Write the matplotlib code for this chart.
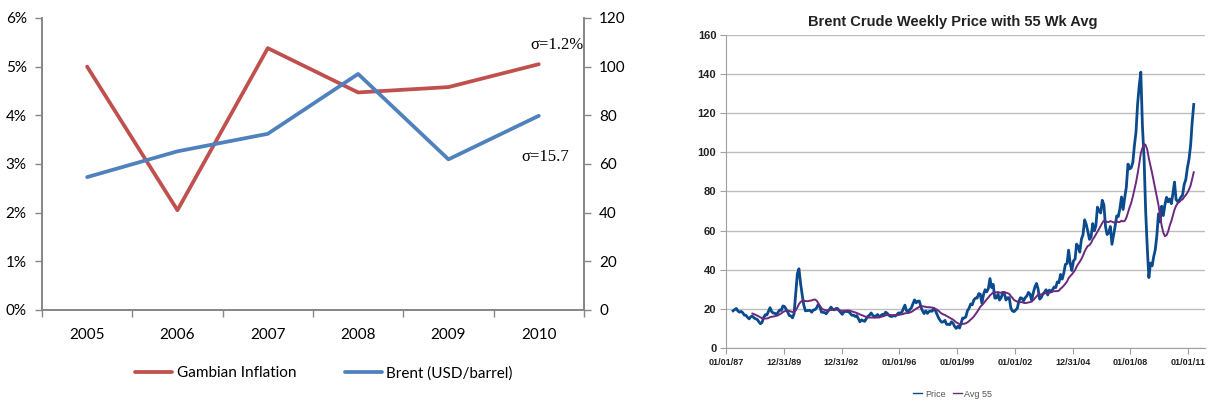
import pandas as pd
import matplotlib
matplotlib.use("Agg")
import matplotlib.pyplot as plt
import matplotlib.dates as mdates
from matplotlib.lines import Line2D

# left panel: yearly values
years = ["2005", "2006", "2007", "2008", "2009", "2010"]
gambia_inflation = [5.00, 2.05, 5.38, 4.47, 4.58, 5.05]   # percent
brent_annual = [54.6, 65.2, 72.4, 97.0, 61.9, 79.8]       # USD/barrel

# right panel: Brent price, one weekly reading per month, May 1987 .. Apr 2011
price_1987 = [19.0, 19.6, 20.2, 18.9, 18.3, 18.7, 18.0, 16.8]
price_1988 = [16.7, 15.6, 14.9, 16.0, 16.3, 15.4, 14.9, 14.6, 13.4, 12.4, 13.1, 15.6]
price_1989 = [17.0, 16.9, 18.7, 20.6, 18.6, 17.9, 17.7, 17.2, 18.3, 19.4, 19.2, 21.5]
price_1990 = [21.2, 19.8, 18.4, 16.6, 16.4, 15.4, 17.6, 27.8, 38.0, 40.5, 33.0, 27.3]
price_1991 = [22.0, 19.0, 19.1, 19.2, 19.2, 18.3, 19.4, 19.6, 20.5, 22.2, 21.2, 18.4]
price_1992 = [18.2, 18.1, 17.5, 18.7, 19.7, 20.9, 19.8, 19.5, 20.2, 20.2, 19.1, 18.2]
price_1993 = [17.2, 18.5, 18.7, 18.6, 18.5, 17.7, 16.7, 16.8, 16.1, 16.6, 15.0, 13.4]
price_1994 = [14.4, 13.9, 13.6, 15.0, 16.2, 16.8, 17.9, 16.8, 15.9, 16.4, 17.1, 15.9]
price_1995 = [16.6, 17.2, 16.9, 18.3, 17.8, 16.7, 16.2, 16.1, 16.6, 16.3, 17.0, 17.9]
price_1996 = [17.9, 18.1, 19.9, 21.9, 19.1, 18.6, 19.6, 20.5, 22.6, 24.6, 23.1, 23.9]
price_1997 = [24.0, 20.8, 19.0, 17.6, 19.0, 17.7, 18.6, 18.9, 18.8, 20.2, 19.1, 17.2]
price_1998 = [15.3, 14.0, 13.2, 13.4, 14.1, 12.1, 12.1, 11.9, 13.4, 12.7, 11.0, 10.0]
price_1999 = [11.1, 10.2, 12.5, 15.3, 15.3, 15.9, 19.0, 20.3, 22.5, 22.1, 24.6, 25.5]
price_2000 = [25.5, 27.8, 27.5, 22.8, 27.3, 29.8, 28.7, 30.4, 35.5, 30.9, 32.5, 25.5]
price_2001 = [25.6, 27.5, 24.5, 25.7, 28.4, 27.7, 24.5, 25.7, 25.7, 20.5, 18.9, 18.6]
price_2002 = [19.4, 20.3, 23.7, 25.7, 25.4, 24.1, 25.7, 26.6, 28.4, 27.5, 24.3, 28.2]
price_2003 = [31.2, 33.0, 30.3, 25.0, 25.8, 27.6, 28.4, 29.8, 27.1, 29.6, 28.8, 29.8]
price_2004 = [31.2, 30.9, 33.8, 33.4, 37.6, 35.2, 38.2, 42.7, 43.2, 50.0, 43.1, 39.6]
price_2005 = [44.5, 45.5, 53.1, 51.9, 49.0, 55.6, 57.9, 65.5, 63.1, 59.5, 55.5, 56.8]
price_2006 = [63.6, 59.9, 62.3, 72.0, 70.2, 69.0, 75.5, 73.2, 62.0, 58.0, 58.9, 62.1]
price_2007 = [53.0, 57.8, 62.1, 67.5, 67.2, 71.3, 77.2, 70.8, 77.1, 82.3, 94.0, 91.5]
price_2008 = [92.2, 94.9, 103.3, 110.4, 124.6, 134.0, 141.0, 113.4, 97.0, 70.0, 51.0, 36.0]
price_2009 = [43.4, 42.0, 46.5, 50.2, 57.3, 68.6, 64.4, 72.5, 67.7, 73.2, 77.0, 74.7]
price_2010 = [76.2, 73.8, 78.8, 84.8, 75.9, 74.8, 75.6, 77.1, 78.2, 83.5, 86.1, 92.0]
price_2011 = [96.5, 103.7, 115.0, 124.5]

brent_weekly = (price_1987 + price_1988 + price_1989 + price_1990 + price_1991 + price_1992
                + price_1993 + price_1994 + price_1995 + price_1996 + price_1997 + price_1998
                + price_1999 + price_2000 + price_2001 + price_2002 + price_2003 + price_2004
                + price_2005 + price_2006 + price_2007 + price_2008 + price_2009 + price_2010
                + price_2011)
dates = pd.date_range("1987-05-01", periods=len(brent_weekly), freq="MS") + pd.Timedelta(days=14)
price = pd.Series(brent_weekly, index=dates)
avg55 = price.rolling(13).mean()   # 55 weeks ~ 13 months

date_ticks = ["1987-01-01", "1989-12-31", "1992-12-31", "1996-01-01", "1999-01-01",
              "2002-01-01", "2004-12-31", "2008-01-01", "2011-01-01"]

red = "#C0504D"
blue = "#4F81BD"
grey = "#868686"

fig = plt.figure(figsize=(12.09, 4.03), dpi=100)

# ---------- left panel ----------
ax1 = fig.add_axes([0.0347, 0.2308, 0.4483, 0.7246])
ax2 = ax1.twinx()
x = list(range(len(years)))
l1, = ax1.plot(x, gambia_inflation, color=red, lw=2.7, solid_capstyle="round")
l2, = ax2.plot(x, brent_annual, color=blue, lw=2.7, solid_capstyle="round")

ax1.set_xlim(-0.5, len(years) - 0.5)
ax1.set_ylim(0, 6)
ax2.set_ylim(0, 120)
ax1.set_yticks(range(0, 7))
ax1.set_yticklabels([f"{v}%" for v in range(0, 7)])
ax2.set_yticks(range(0, 121, 20))
ax1.set_xticks([i - 0.5 for i in range(len(years) + 1)])
ax1.set_xticklabels([])
ax1.set_xticks(x, minor=True)
ax1.set_xticklabels(years, minor=True)
ax1.tick_params(axis="x", which="major", length=5, color=grey, width=1)
ax1.tick_params(axis="x", which="minor", length=0, pad=13)
ax1.tick_params(axis="y", length=5, color=grey, width=1, pad=6)
ax2.tick_params(axis="y", length=5, color=grey, width=1, pad=6)
for a in (ax1, ax2):
    a.spines["top"].set_visible(False)
    for s in ("left", "right", "bottom"):
        a.spines[s].set_color(grey)
        a.spines[s].set_linewidth(1.2)
    for lab in a.get_xticklabels(which="both") + a.get_yticklabels():
        lab.set_fontfamily("Lato")
        lab.set_fontsize(11)

ax1.text(5.2, 5.44, "σ=1.2%", family="Liberation Serif", fontsize=12,
         ha="center", va="center")
ax1.text(5.07, 3.14, "σ=15.7", family="Liberation Serif", fontsize=12,
         ha="center", va="center")

fig.legend([l1, l2], ["Gambian Inflation", "Brent (USD/barrel)"],
           loc="center", bbox_to_anchor=(0.268, 0.074), ncol=2, frameon=False,
           prop={"family": "Lato", "size": 11}, handlelength=2.4, columnspacing=3.2,
           handletextpad=0.3)

# ---------- right panel ----------
ax3 = fig.add_axes([0.6005, 0.1365, 0.396, 0.7767])
ax3.plot(price.index, price.values, color="#0B4A8C", lw=2.0, label="Price")
ax3.plot(avg55.index, avg55.values, color="#6B2A7E", lw=1.4, label="Avg 55")
ax3.set_ylim(0, 160)
ax3.set_yticks(range(0, 161, 20))
ax3.set_xlim(pd.Timestamp("1987-01-01"), pd.Timestamp("2011-11-10"))
ax3.set_xticks(pd.to_datetime(date_ticks))
ax3.xaxis.set_major_formatter(mdates.DateFormatter("%m/%d/%y"))
ax3.grid(axis="y", color="#BDBDBD", lw=1)
ax3.set_axisbelow(True)
for s in ("top", "right"):
    ax3.spines[s].set_visible(False)
for s in ("left", "bottom"):
    ax3.spines[s].set_color("#A0A0A0")
ax3.tick_params(axis="y", length=4, color="#A0A0A0", labelsize=8, pad=3)
ax3.tick_params(axis="x", length=4, color="#A0A0A0", labelsize=6.5, pad=3)
for lab in ax3.get_xticklabels() + ax3.get_yticklabels():
    lab.set_fontfamily("Liberation Sans")
    lab.set_fontweight("bold")
    lab.set_color("#222222")

fig.text(0.788, 0.945, "Brent Crude Weekly Price with 55 Wk Avg", ha="center", va="center",
         family="Liberation Sans", fontweight="bold", fontsize=10.5, color="#222222")
fig.legend(handles=[Line2D([], [], color="#0B4A8C", lw=1), Line2D([], [], color="#6B2A7E", lw=1)],
           labels=["Price", "Avg 55"], loc="center", bbox_to_anchor=(0.788, 0.022), ncol=2,
           frameon=False, prop={"family": "Liberation Sans", "size": 6.5},
           handlelength=1.0, handletextpad=0.3, columnspacing=0.8, labelcolor="#555555")

fig.savefig("out.png", dpi=100)
